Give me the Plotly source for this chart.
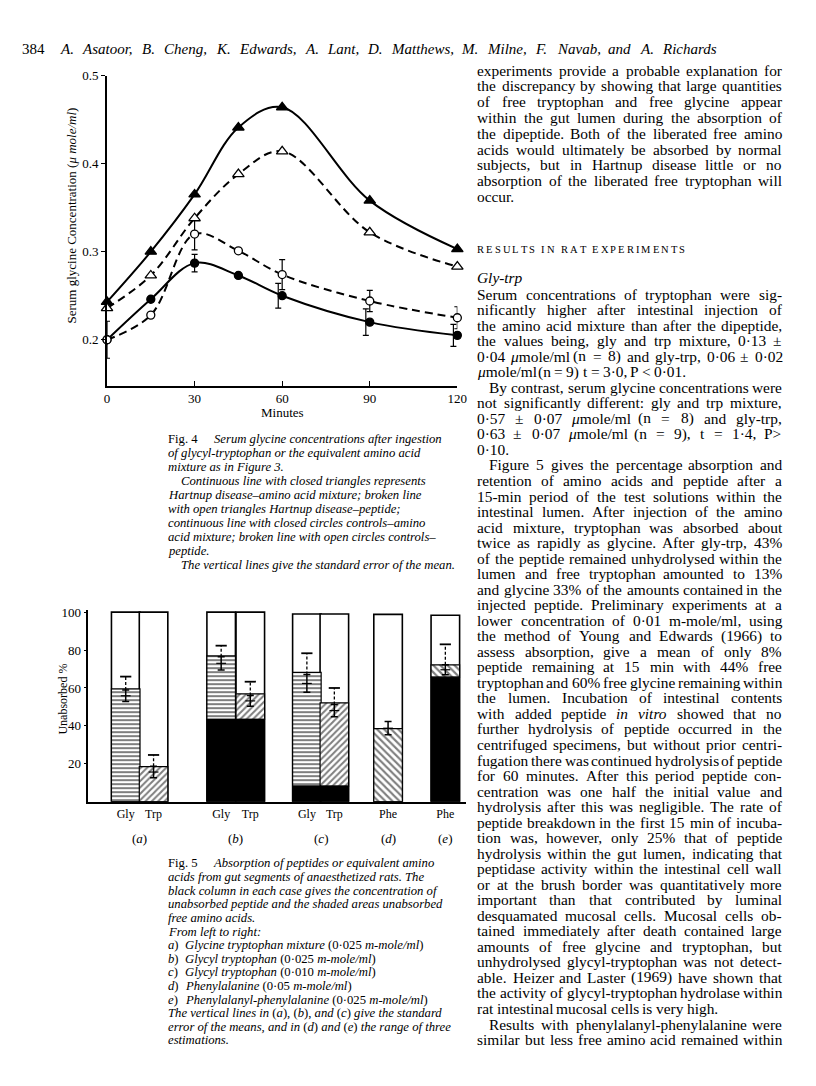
import re
import plotly.graph_objects as go

W, H = 816, 1086
font_family = 'Liberation Serif'

# ---- Fig. 4 data: serum glycine (umole/ml) against minutes
minutes = [0, 15, 30, 45, 60, 90, 120]
hartnup_amino = [0.243, 0.300, 0.365, 0.441, 0.464, 0.358, 0.303]     # closed triangles
hartnup_peptide = [0.236, 0.273, 0.338, 0.388, 0.414, 0.322, 0.283]   # open triangles
control_amino = [0.200, 0.246, 0.287, 0.273, 0.250, 0.220, 0.205]     # closed circles
control_peptide = [0.200, 0.228, 0.320, 0.301, 0.274, 0.244, 0.225]   # open circles
control_amino_se = [None, None, 0.010, None, 0.014, 0.015, 0.0125]
control_peptide_se = [0.021, None, 0.018, None, 0.017, 0.012, 0.0125]
fig4_yticks = [0.2, 0.3, 0.4, 0.5]
fig4_xticks = [0, 30, 60, 90, 120]

# ---- Fig. 5 data: unabsorbed %
bar_labels = ['Gly', 'Trp', 'Gly', 'Trp', 'Gly', 'Trp', 'Phe', 'Phe']
group_labels = ['(<i>a</i>)', '(<i>b</i>)', '(<i>c</i>)', '(<i>d</i>)', '(<i>e</i>)']
bar_group = [0, 0, 1, 1, 2, 2, 3, 4]
column_top = [100, 100, 100, 100, 99, 99, 98.8, 98.3]
peptide_pct = [0, 0, 43.5, 43.5, 8.3, 8.3, 0, 65.7]
free_top_pct = [59.5, 18.6, 76.9, 56.9, 68.2, 52.2, 38.6, 72.2]
err_mid = [55.9, 15.7, 73.0, 53.2, 62.4, 48.1, 38.8, 69.6]
err_half = [3.0, 3.0, 3.5, 2.8, 4.7, 3.2, 3.5, 2.6]
err_dash_top = [66.0, 24.7, 82.3, 63.3, 78.3, 60.0, None, 83.0]
fig5_yticks = [20, 40, 60, 80, 100]

# ---- page text
header_authors = 'A. Asatoor, B. Cheng, K. Edwards, A. Lant, D. Matthews, M. Milne, F. Navab, and A. Richards'

top_para = [
    'experiments provide a probable explanation for',
    'the discrepancy by showing that large quantities',
    'of free tryptophan and free glycine appear',
    'within the gut lumen during the absorption of',
    'the dipeptide. Both of the liberated free amino',
    'acids would ultimately be absorbed by normal',
    'subjects, but in Hartnup disease little or no',
    'absorption of the liberated free tryptophan will',
    'occur.',
]

body_lines = [
    'Serum concentrations of tryptophan were sig-',
    'nificantly higher after intestinal injection of',
    'the amino acid mixture than after the dipeptide,',
    'the values being, gly and trp mixture, 0·13 ±',
    '0·04 <i>μ</i>mole/ml (n = 8) and gly-trp, 0·06 ± 0·02',
    '<i>μ</i>mole/ml (n = 9) t = 3·0, P &lt; 0·01.',
    'By contrast, serum glycine concentrations were',
    'not significantly different: gly and trp mixture,',
    '0·57 ± 0·07 <i>μ</i>mole/ml (n = 8) and gly-trp,',
    '0·63 ± 0·07 <i>μ</i>mole/ml (n = 9), t = 1·4, P&gt;',
    '0·10.',
    'Figure 5 gives the percentage absorption and',
    'retention of amino acids and peptide after a',
    '15-min period of the test solutions within the',
    'intestinal lumen. After injection of the amino',
    'acid mixture, tryptophan was absorbed about',
    'twice as rapidly as glycine. After gly-trp, 43%',
    'of the peptide remained unhydrolysed within the',
    'lumen and free tryptophan amounted to 13%',
    'and glycine 33% of the amounts contained in the',
    'injected peptide. Preliminary experiments at a',
    'lower concentration of 0·01 m-mole/ml, using',
    'the method of Young and Edwards (1966) to',
    'assess absorption, give a mean of only 8%',
    'peptide remaining at 15 min with 44% free',
    'tryptophan and 60% free glycine remaining within',
    'the lumen. Incubation of intestinal contents',
    'with added peptide <i>in</i> <i>vitro</i> showed that no',
    'further hydrolysis of peptide occurred in the',
    'centrifuged specimens, but without prior centri-',
    'fugation there was continued hydrolysis of peptide',
    'for 60 minutes. After this period peptide con-',
    'centration was one half the initial value and',
    'hydrolysis after this was negligible. The rate of',
    'peptide breakdown in the first 15 min of incuba-',
    'tion was, however, only 25% that of peptide',
    'hydrolysis within the gut lumen, indicating that',
    'peptidase activity within the intestinal cell wall',
    'or at the brush border was quantitatively more',
    'important than that contributed by luminal',
    'desquamated mucosal cells. Mucosal cells ob-',
    'tained immediately after death contained large',
    'amounts of free glycine and tryptophan, but',
    'unhydrolysed glycyl-tryptophan was not detect-',
    'able. Heizer and Laster (1969) have shown that',
    'the activity of glycyl-tryptophan hydrolase within',
    'rat intestinal mucosal cells is very high.',
    'Results with phenylalanyl-phenylalanine were',
    'similar but less free amino acid remained within',
]
body_indent = {6, 11, 47}
body_last = {5, 10, 46}

fig4_caption = [
    '<i>of glycyl-tryptophan or the equivalent amino acid</i>',
    '<i>mixture as in Figure 3.</i>',
    '<i>Continuous line with closed triangles represents</i>',
    '<i>Hartnup disease–amino acid mixture; broken line</i>',
    '<i>with open triangles Hartnup disease–peptide;</i>',
    '<i>continuous line with closed circles controls–amino</i>',
    '<i>acid mixture; broken line with open circles controls–</i>',
    '<i>peptide.</i>',
    '<i>The vertical lines give the standard error of the mean.</i>',
]
fig5_caption = [
    '<i>acids from gut segments of anaesthetized rats. The</i>',
    '<i>black column in each case gives the concentration of</i>',
    '<i>unabsorbed peptide and the shaded areas unabsorbed</i>',
    '<i>free amino acids.</i>',
    '<i>From left to right:</i>',
    '<i>a</i>)', '<i>b</i>)', '<i>c</i>)', '<i>d</i>)', '<i>e</i>)',
    '<i>The vertical lines in</i> (<i>a</i>), (<i>b</i>), <i>and</i> (<i>c</i>) <i>give the standard</i>',
    '<i>error of the means, and in</i> (<i>d</i>) <i>and</i> (<i>e</i>) <i>the range of three</i>',
    '<i>estimations.</i>',
]
fig5_items = [
    '<i>Glycine tryptophan mixture</i> (0·025 <i>m-mole/ml</i>)',
    '<i>Glycyl tryptophan</i> (0·025 <i>m-mole/ml</i>)',
    '<i>Glycyl tryptophan</i> (0·010 <i>m-mole/ml</i>)',
    '<i>Phenylalanine</i> (0·05 <i>m-mole/ml</i>)',
    '<i>Phenylalanyl-phenylalanine</i> (0·025 <i>m-mole/ml</i>)',
]


def X(px):
    return px / W


def Y(py):
    return 1 - py / H


# rough Times advance widths (per 1000 em) used to space justified words
ROMAN = {}
for chars, w in [(' ,.·', 250), ('iljt/:;\\', 278), ('fr()[]-I\'`!', 333), ('sJ', 389),
                 ('acez?', 444), ('bdghknopquvxy0123456789*_$#μ–', 500), ('+=<>±', 564),
                 ('FPS', 556), ('ELTZ', 611), ('BCR', 667), ('ADGHKNOUVXYwQ', 722),
                 ('m&', 778), ('%', 833), ('M', 889), ('W', 944)]:
    for c in chars:
        ROMAN[c] = w
ITALIC = {}
for chars, w in [('a', 500), ('kvy', 444), ('m', 722), ('rz', 389), ('w', 667), ('f', 278),
                 ('ABFPR', 611), ('KN', 667), ('L', 556), ('MW', 833)]:
    for c in chars:
        ITALIC[c] = w


def em(word, italic=False):
    italic = italic or word.startswith('<i>')
    s = re.sub(r'<[^>]+>', '', word).replace('&lt;', '<').replace('&gt;', '>')
    total = 0
    for c in s:
        w = ROMAN.get(c, 500)
        if italic:
            w = ITALIC.get(c, w)
        total += w
    return total / 1000


annos = []


def text_at(text, x, y, size, anchor='left', angle=0):
    annos.append(dict(text=text, x=X(x), y=Y(y), xref='paper', yref='paper',
                      xanchor=anchor, yanchor='middle', showarrow=False,
                      font=dict(size=size), borderpad=0, textangle=angle))


def put_tokens(tokens, y, x0, x1, size, justify=True, italic=False):
    widths = [em(t, italic) * size for t in tokens]
    if justify and len(tokens) > 1:
        gap = (x1 - x0 - sum(widths)) / (len(tokens) - 1)
    else:
        gap = 0.25 * size
    x = x0
    for t, wd in zip(tokens, widths):
        if t:
            text_at('<i>' + t + '</i>' if italic else t, x, y, size)
        x += wd + gap


# ---- header
text_at('384', 18, 42, 15)
put_tokens(header_authors.split(' '), 42, 57, 723, 15, italic=True)

# ---- right column
col_l, col_r, body_size = 481, 790, 15.4
for i, line in enumerate(top_para):
    put_tokens(line.split(' '), 63.5 + i * 15.9, col_l, col_r, body_size,
               justify=(i < len(top_para) - 1))

# letter-spaced small-caps heading: empty tokens widen the word gaps
heading = []
for word in 'RESULTS IN RAT EXPERIMENTS'.split(' '):
    heading += list(word) + ['', '']
put_tokens(heading[:-2], 244, col_l, 692, 10.5)
text_at('<i>Gly-trp</i>', col_l, 272, body_size)

for i, line in enumerate(body_lines):
    x0 = col_l + (12 if i in body_indent else 0)
    put_tokens(line.split(' '), 289 + i * 15.63, x0, col_r, body_size,
               justify=(i not in body_last))

# ---- captions
cap_size = 12.7
text_at('Fig. 4', 167, 435, cap_size)
text_at('<i>Serum glycine concentrations after ingestion</i>', 213, 435, cap_size)
for i, line in enumerate(fig4_caption):
    x0 = 180 if i in (2, 8) else 167
    text_at(line, x0, 435 + (i + 1) * 14.05, cap_size)

text_at('Fig. 5', 167, 862, cap_size)
text_at('<i>Absorption of peptides or equivalent amino</i>', 212, 862, cap_size)
for i, line in enumerate(fig5_caption):
    text_at(line, 167, 862 + (i + 1) * 13.7, cap_size)
for i, line in enumerate(fig5_items):
    text_at(line, 184, 862 + (i + 6) * 13.7, cap_size)

# ---- figure
fig = go.Figure()

# Fig. 4 curves
line_styles = [(hartnup_amino, 'solid'), (hartnup_peptide, '8px,5px'),
               (control_amino, 'solid'), (control_peptide, '8px,5px')]
for series, dash in line_styles:
    fig.add_trace(go.Scatter(x=minutes, y=series, mode='lines', cliponaxis=False,
                             line=dict(color='black', width=2, shape='spline', smoothing=1.0, dash=dash),
                             xaxis='x', yaxis='y', hoverinfo='skip'))

# standard error bars (closed-circle bars sit just left of the point after 30 min)
for series, se, shift in [(control_peptide, control_peptide_se, 0), (control_amino, control_amino_se, -1.35)]:
    ex, ey, ee = [], [], []
    for t, v, s in zip(minutes, series, se):
        if s is not None:
            ex.append(t + (shift if t > 30 else 0))
            ey.append(v)
            ee.append(s)
    fig.add_trace(go.Scatter(x=ex, y=ey, mode='markers', cliponaxis=False,
                             marker=dict(size=1, color='rgba(0,0,0,0)'),
                             error_y=dict(type='data', array=ee, width=3, thickness=1.2, color='black'),
                             xaxis='x', yaxis='y'))

marker_styles = [(hartnup_amino, 'triangle-up', 'black', 10),
                 (hartnup_peptide, 'triangle-up', 'white', 10),
                 (control_amino, 'circle', 'black', 8),
                 (control_peptide, 'circle', 'white', 8)]
for series, symbol, fill, size in marker_styles:
    fig.add_trace(go.Scatter(x=minutes, y=series, mode='markers', cliponaxis=False,
                             marker=dict(symbol=symbol, color=fill, size=size,
                                         line=dict(color='black', width=1.3)),
                             xaxis='x', yaxis='y'))

# Fig. 5 columns (x in pixels from the y axis)
bar_x = [px - 86.7 for px in [124.7, 153, 221.7, 251.3, 308.8, 336.7, 391.3, 449.5]]
patterns = ['-', '/', '-', '/', '-', '/', '\\', '\\']
pattern_size = [4, 4.5, 4, 4.5, 4, 4.5, 5, 5]
pattern_solid = [0.5, 0.45, 0.5, 0.45, 0.5, 0.45, 0.42, 0.42]

fig.add_trace(go.Bar(x=bar_x, y=column_top, width=29, xaxis='x2', yaxis='y2',
                     marker=dict(color='white', line=dict(color='black', width=1.6))))
fig.add_trace(go.Bar(x=bar_x, y=[f - p for f, p in zip(free_top_pct, peptide_pct)], base=peptide_pct,
                     width=29, xaxis='x2', yaxis='y2',
                     marker=dict(color='white', line=dict(color='black', width=1.2),
                                 pattern=dict(shape=patterns, fgcolor='black', bgcolor='white',
                                              size=pattern_size, solidity=pattern_solid))))
fig.add_trace(go.Bar(x=bar_x, y=peptide_pct, base=0, width=29, xaxis='x2', yaxis='y2',
                     marker=dict(color='black', line=dict(color='black', width=1))))

dx, dy, cx, cy = [], [], [], []
for x, m, h, top in zip(bar_x, err_mid, err_half, err_dash_top):
    if top is not None:
        dx += [x, x, None]
        dy += [m + h, top, None]
        cx.append(x)
        cy.append(top)
fig.add_trace(go.Scatter(x=dx, y=dy, mode='lines', xaxis='x2', yaxis='y2', cliponaxis=False,
                         line=dict(color='black', width=1.3, dash='3px,2px')))
fig.add_trace(go.Scatter(x=cx, y=cy, mode='markers', xaxis='x2', yaxis='y2', cliponaxis=False,
                         marker=dict(symbol='line-ew', size=8, line=dict(color='black', width=1.8))))
fig.add_trace(go.Scatter(x=bar_x, y=err_mid, mode='markers', xaxis='x2', yaxis='y2', cliponaxis=False,
                         marker=dict(symbol='line-ew', size=7, line=dict(color='black', width=1.2)),
                         error_y=dict(type='data', array=err_half, width=3.5, thickness=1.5, color='black')))

# group labels under Fig. 5
for g, lab in enumerate(group_labels):
    xs = [x for x, gg in zip(bar_x, bar_group) if gg == g]
    annos.append(dict(text=lab, x=sum(xs) / len(xs), y=Y(837), xref='x2', yref='paper',
                      xanchor='center', yanchor='middle', showarrow=False, font=dict(size=13)))

# axis titles
text_at('Serum glycine Concentration (<i>μ mole/ml</i>)', 70, 210, 13, anchor='center', angle=-90)
text_at('Minutes', 283.7, 408, 13, anchor='center')
text_at('Unabsorbed %', 60, 697, 12, anchor='center', angle=-90)

axis_common = dict(showline=True, linecolor='black', showgrid=False, zeroline=False,
                   tickcolor='black', tickfont=dict(size=13))
fig.update_layout(
    width=W, height=H,
    margin=dict(l=0, r=0, t=0, b=0),
    paper_bgcolor='white', plot_bgcolor='rgba(0,0,0,0)',
    font=dict(family=font_family, color='black', size=13),
    showlegend=False,
    barmode='overlay',
    xaxis=dict(axis_common, domain=[X(105.7), X(461.7)], range=[0, 120], anchor='y',
               tickvals=fig4_xticks, ticks='inside', ticklen=5, linewidth=1.6),
    yaxis=dict(axis_common, domain=[Y(381), Y(69)], range=[0.148, 0.5], anchor='x',
               tickvals=fig4_yticks, tickformat='.1f', ticks='outside', ticklen=4, linewidth=1.6),
    xaxis2=dict(axis_common, domain=[X(86.7), X(470)], range=[0, 383.3], anchor='y2',
                tickvals=bar_x, ticktext=bar_labels, ticks='', linewidth=2,
                tickfont=dict(size=12)),
    yaxis2=dict(axis_common, domain=[Y(800), Y(800 - 101 * 1.91)], range=[0, 101], anchor='x2',
                tickvals=fig5_yticks, ticks='outside', ticklen=3, linewidth=1.6),
    annotations=annos,
)

fig.write_html("out.html", config={'displayModeBar': False},
               post_script="document.body.style.margin='0';document.body.style.overflow='hidden';")
